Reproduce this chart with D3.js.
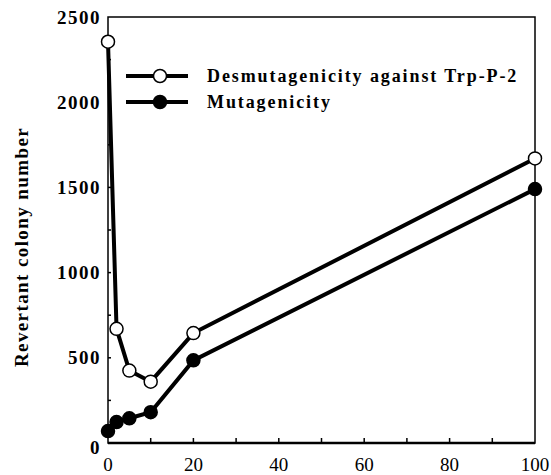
<!DOCTYPE html>
<html lang="en">
<head>
    <meta charset="UTF-8">
    <title>Revertant colony number</title>
    <style>
        body, html {
            margin: 0;
            padding: 0;
            background: #ffffff;
            overflow: hidden;
        }
        svg {
            font-family: "Liberation Serif", "DejaVu Serif", serif;
        }
        .ylab {
            font-size: 19px;
            font-weight: bold;
            letter-spacing: 1.5px;
        }
        .xlab {
            font-size: 19px;
        }
        .legend text {
            font-size: 18px;
            font-weight: bold;
            letter-spacing: 1.9px;
        }
    </style>
</head>
<body>
    <div id="chart"></div>
    <script src="https://d3js.org/d3.v7.min.js"></script>
    <script>
        // values
        const doses = [0, 2, 5, 10, 20, 100];
        const desmutagenicity = [2355, 670, 425, 360, 645, 1670];
        const mutagenicity = [70, 123, 145, 181, 485, 1490];
        const yTicks = [0, 500, 1000, 1500, 2000, 2500];
        const xTicks = [0, 20, 40, 60, 80, 100];
        const seriesNames = ['Desmutagenicity against Trp-P-2', 'Mutagenicity'];

        const width = 551, height = 475;
        const margin = { top: 17, right: 16, bottom: 32, left: 108 };

        const svg = d3.select('#chart').append('svg')
            .attr('width', width)
            .attr('height', height);

        const x = d3.scaleLinear().domain([0, 100]).range([margin.left, width - margin.right]);
        const y = d3.scaleLinear().domain([0, 2500]).range([height - margin.bottom, margin.top]);

        // frame
        svg.append('rect')
            .attr('x', x(0)).attr('y', y(2500))
            .attr('width', x(100) - x(0)).attr('height', y(0) - y(2500))
            .attr('fill', 'none').attr('stroke', '#000').attr('stroke-width', 1.5);
        svg.append('line')
            .attr('x1', x(0)).attr('x2', x(100))
            .attr('y1', y(0)).attr('y2', y(0))
            .attr('stroke', '#000').attr('stroke-width', 2.5);

        // inward ticks
        svg.selectAll('line.yt')
            .data(d3.range(250, 2500, 250))
            .enter().append('line')
            .attr('x1', x(0)).attr('x2', x(0) + 3)
            .attr('y1', d => y(d)).attr('y2', d => y(d))
            .attr('stroke', '#000').attr('stroke-width', 1.5);
        svg.selectAll('line.xt')
            .data(d3.range(10, 100, 10))
            .enter().append('line')
            .attr('x1', d => x(d)).attr('x2', d => x(d))
            .attr('y1', y(0)).attr('y2', y(0) - 5)
            .attr('stroke', '#000').attr('stroke-width', 1.5);

        // tick labels
        svg.selectAll('text.ylab')
            .data(yTicks)
            .enter().append('text')
            .attr('class', 'ylab')
            .attr('x', x(0) - 7)
            .attr('y', d => d === 0 ? y(d) + 4 : y(d))
            .attr('dy', '0.35em')
            .attr('text-anchor', 'end')
            .text(d => d);

        svg.selectAll('text.xlab')
            .data(xTicks)
            .enter().append('text')
            .attr('class', 'xlab')
            .attr('x', d => x(d))
            .attr('y', y(0) + 21)
            .attr('dy', '0.35em')
            .attr('text-anchor', 'middle')
            .text(d => d);

        svg.append('text')
            .attr('transform', `translate(21, ${(y(0) + y(2500)) / 2 + 17}) rotate(-90)`)
            .attr('text-anchor', 'middle')
            .attr('dy', '0.35em')
            .style('font-size', '19px')
            .style('font-weight', 'bold')
            .style('letter-spacing', '1.4px')
            .text('Revertant colony number');

        // series
        const line = d3.line()
            .x(d => x(d[0]))
            .y(d => y(d[1]));

        const series = [
            { values: desmutagenicity, fill: '#fff' },
            { values: mutagenicity, fill: '#000' }
        ];

        series.forEach(s => {
            const pts = doses.map((d, i) => [d, s.values[i]]);
            svg.append('path')
                .datum(pts)
                .attr('d', line)
                .attr('fill', 'none')
                .attr('stroke', '#000')
                .attr('stroke-width', 4);
            svg.selectAll(null)
                .data(pts)
                .enter().append('circle')
                .attr('cx', d => x(d[0]))
                .attr('cy', d => y(d[1]))
                .attr('r', 6.5)
                .attr('fill', s.fill)
                .attr('stroke', '#000')
                .attr('stroke-width', 1.5);
        });

        // legend
        const legend = svg.append('g').attr('class', 'legend');
        seriesNames.forEach((name, i) => {
            const ly = 76 + i * 26;
            legend.append('line')
                .attr('x1', 126).attr('x2', 188)
                .attr('y1', ly).attr('y2', ly)
                .attr('stroke', '#000').attr('stroke-width', 4);
            legend.append('circle')
                .attr('cx', 160).attr('cy', ly).attr('r', 6.5)
                .attr('fill', series[i].fill)
                .attr('stroke', '#000').attr('stroke-width', 1.5);
            legend.append('text')
                .attr('x', 207).attr('y', ly)
                .attr('dy', '0.35em')
                .text(name);
        });
    </script>
</body>
</html>
